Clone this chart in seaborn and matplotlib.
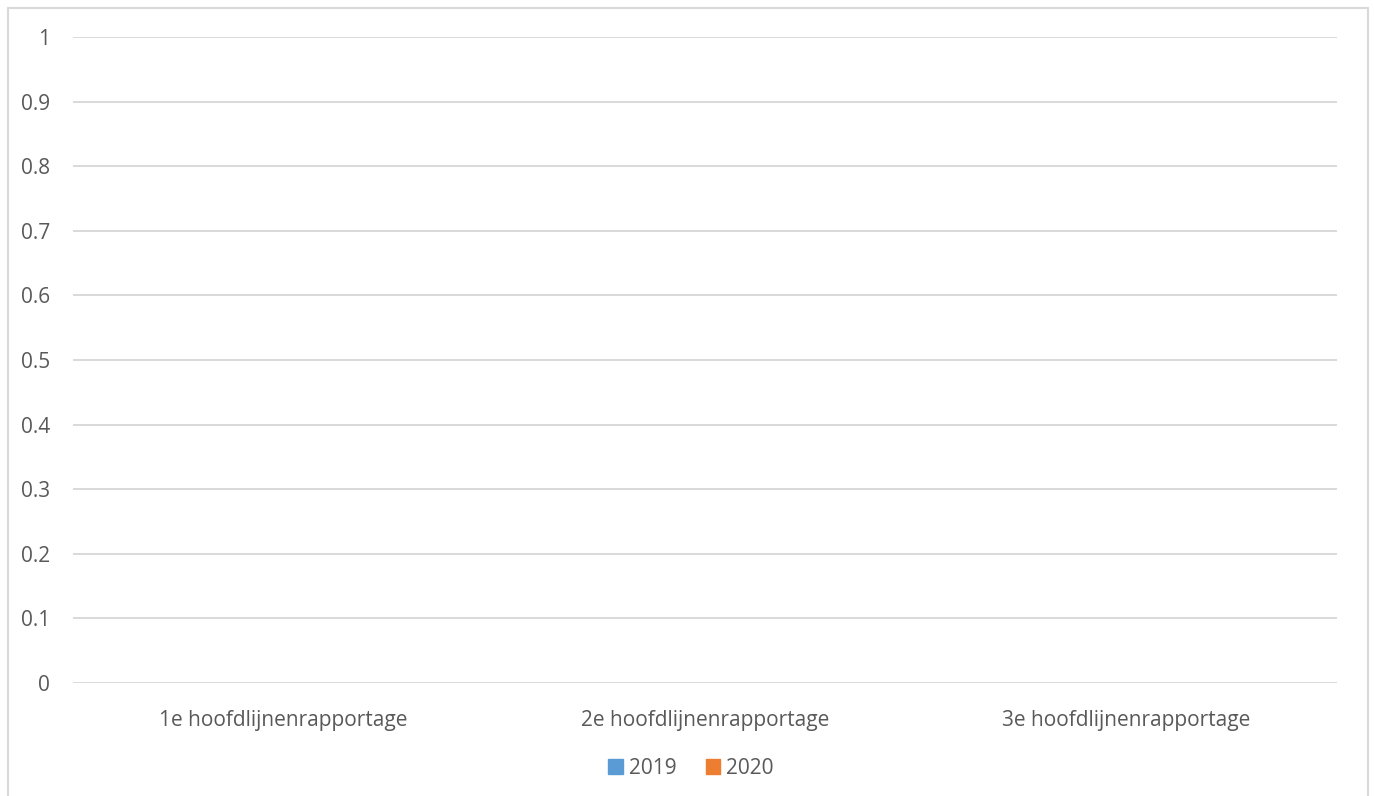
import matplotlib

matplotlib.use("Agg")
import matplotlib.pyplot as plt
import pandas as pd
import seaborn as sns
from matplotlib.lines import Line2D
from matplotlib.patches import Patch

categories = ["1e hoofdlijnenrapportage", "2e hoofdlijnenrapportage", "3e hoofdlijnenrapportage"]
years = ["2019", "2020"]
values_2019 = [0, 0, 0]
values_2020 = [0, 0, 0]
colors = {"2019": "#5b9bd5", "2020": "#ed7d31"}

sns.set_theme(style="white")
plt.rcParams["font.family"] = ["Open Sans", "DejaVu Sans"]

df = pd.DataFrame({
    "categorie": categories * 2,
    "jaar": ["2019"] * 3 + ["2020"] * 3,
    "waarde": values_2019 + values_2020,
})

W, H = 1374, 796
fig = plt.figure(figsize=(W / 100, H / 100), dpi=100)
ax = fig.add_axes([73 / W, (H - 683) / H, (1337 - 73) / W, (683 - 37) / H])

sns.barplot(data=df, x="categorie", y="waarde", hue="jaar", palette=colors,
            order=categories, hue_order=years, linewidth=0, ax=ax, legend=False)

ax.set_ylim(0, 1)
ax.set_yticks([i / 10 for i in range(11)])
ax.set_yticklabels(["0"] + [f"{i / 10:.1f}" for i in range(1, 10)] + ["1"])
ax.yaxis.grid(True, color="#d9d9d9", linewidth=1.4)
ax.set_axisbelow(True)
for s in ax.spines.values():
    s.set_visible(False)
ax.set_xlabel(""); ax.set_ylabel("")
ax.tick_params(axis="y", length=0, pad=16.5, labelsize=15, labelcolor="#595959")
ax.tick_params(axis="x", length=0, pad=19.5, labelsize=15, labelcolor="#595959")

handles = [Patch(color=colors[y], label=y) for y in years]
fig.legend(handles=handles, loc="center", bbox_to_anchor=(691 / W, 1 - 768 / H),
           ncol=2, frameon=False, fontsize=15, handlelength=0.7, handleheight=0.7,
           handletextpad=0.3, columnspacing=1.4, labelcolor="#595959")

# chart border (Excel-style frame, bottom cut off)
bc = "#d9d9d9"
x0, x1, y0 = 7.5 / W, 1367.5 / W, 1 - 7.5 / H
fig.add_artist(Line2D([x0, x0], [0, y0], color=bc, lw=1.5, transform=fig.transFigure))
fig.add_artist(Line2D([x1, x1], [0, y0], color=bc, lw=1.5, transform=fig.transFigure))
fig.add_artist(Line2D([x0, x1], [y0, y0], color=bc, lw=1.5, transform=fig.transFigure))

fig.savefig("out.png", dpi=100)
